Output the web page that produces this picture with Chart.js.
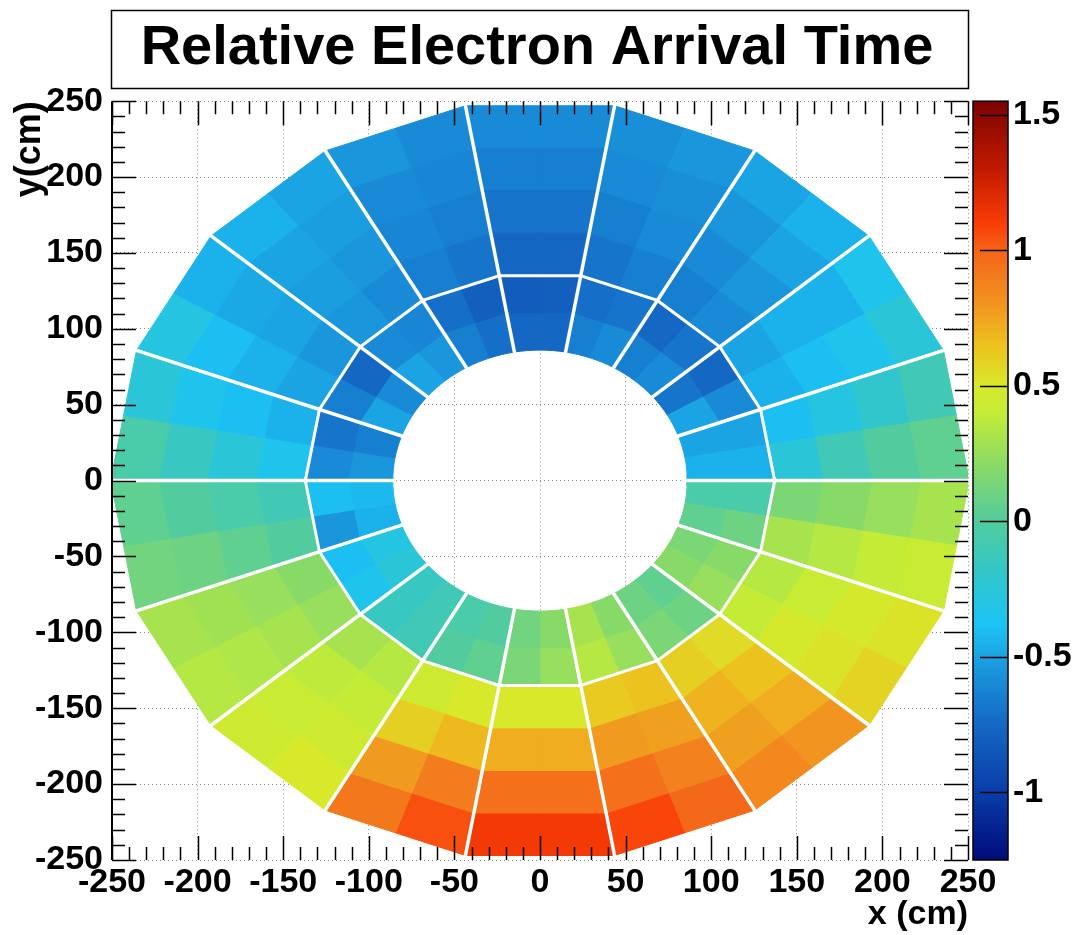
<!DOCTYPE html>
<html>
<head>
<meta charset="utf-8">
<title>Relative Electron Arrival Time</title>
<script src="https://cdn.jsdelivr.net/npm/chart.js@4.4.0/dist/chart.umd.min.js"></script>
<style>
  html, body { margin: 0; padding: 0; background: #fff; }
  canvas { display: block; }
</style>
</head>
<body>
<canvas id="arrival-chart" width="1074" height="935"></canvas>
<script>
// axis tick labels (cm) and colour scale
const xTickLabels = [-250, -200, -150, -100, -50, 0, 50, 100, 150, 200, 250];
const yTickLabels = [-250, -200, -150, -100, -50, 0, 50, 100, 150, 200, 250];
const zTickLabels = [-1, -0.5, 0, 0.5, 1, 1.5];
const zRange = [-1.25, 1.55];

// detector layout: 18 modules of 20 deg, each read as two 10 deg halves
const moduleEdges = [0, 20, 40, 60, 80, 100, 120, 140, 160, 180, 200, 220, 240, 260, 280, 300, 320, 340];
const cellStarts = [0, 10, 20, 30, 40, 50, 60, 70, 80, 90, 100, 110, 120, 130, 140, 150, 160, 170,
  180, 190, 200, 210, 220, 230, 240, 250, 260, 270, 280, 290, 300, 310, 320, 330, 340, 350];
// radial bin edges (cm): round hole of 86, inner ring to 135, outer ring to 247
const radialEdges = [86, 110, 135, 163, 191, 219, 247];

// relative arrival time per cell, counter-clockwise from +x, one list per radial bin
const timeR1 = [-0.45, -0.5, -0.5, -0.7, -0.6, -0.65, -0.6, -0.65, -0.75, -0.75, -0.72, -0.65, -0.55, -0.5, -0.6, -0.5, -0.65, -0.55,
  -0.42, -0.45, -0.3, -0.25, -0.15, -0.1, -0.05, 0.0, 0.12, 0.2, 0.3, 0.2, 0.1, 0.05, 0.2, 0.15, 0.05, -0.05];
const timeR2 = [-0.45, -0.5, -0.6, -0.75, -0.7, -0.75, -0.7, -0.72, -0.8, -0.82, -0.8, -0.72, -0.62, -0.6, -0.75, -0.65, -0.7, -0.6,
  -0.4, -0.55, -0.4, -0.35, -0.15, -0.1, 0.0, 0.05, 0.15, 0.25, 0.35, 0.25, 0.15, 0.1, 0.25, 0.2, 0.1, -0.05];
const timeR3 = [-0.25, -0.4, -0.45, -0.5, -0.6, -0.65, -0.65, -0.7, -0.75, -0.75, -0.7, -0.65, -0.6, -0.55, -0.55, -0.5, -0.45, -0.35,
  -0.1, 0.0, 0.2, 0.25, 0.3, 0.35, 0.45, 0.5, 0.5, 0.5, 0.62, 0.65, 0.6, 0.55, 0.4, 0.35, 0.3, 0.15];
const timeR4 = [-0.1, -0.3, -0.4, -0.45, -0.55, -0.6, -0.6, -0.65, -0.7, -0.7, -0.65, -0.62, -0.55, -0.52, -0.5, -0.45, -0.4, -0.25,
  -0.05, 0.05, 0.25, 0.3, 0.38, 0.4, 0.6, 0.68, 0.72, 0.72, 0.78, 0.76, 0.7, 0.65, 0.48, 0.42, 0.35, 0.2];
const timeR5 = [0.0, -0.2, -0.35, -0.45, -0.5, -0.55, -0.58, -0.6, -0.65, -0.65, -0.62, -0.6, -0.52, -0.5, -0.48, -0.4, -0.35, -0.15,
  0.0, 0.1, 0.28, 0.33, 0.42, 0.45, 0.78, 0.9, 0.95, 0.95, 0.95, 0.88, 0.76, 0.72, 0.52, 0.48, 0.4, 0.25];
const timeR6 = [0.05, -0.1, -0.25, -0.35, -0.45, -0.5, -0.55, -0.58, -0.6, -0.6, -0.6, -0.55, -0.5, -0.45, -0.45, -0.3, -0.25, -0.05,
  0.05, 0.12, 0.3, 0.35, 0.45, 0.5, 0.92, 1.05, 1.12, 1.12, 1.08, 0.98, 0.85, 0.8, 0.58, 0.52, 0.42, 0.3];

const palette = [
  [-1.25, "#000c7a"], [-1.0, "#0a3da8"], [-0.75, "#1468c4"], [-0.55, "#1a96dc"],
  [-0.38, "#1cc4f4"], [-0.2, "#30c6cc"], [0.0, "#52cc9e"], [0.2, "#88da68"],
  [0.4, "#c4ec36"], [0.5, "#d8e82a"], [0.65, "#ecc21e"], [0.8, "#f29420"],
  [1.0, "#f46418"], [1.1, "#fa3c06"], [1.3, "#c21a00"], [1.5, "#8a0800"], [1.55, "#7c0000"],
];

const FONT = "'Liberation Sans', Arial, Helvetica, sans-serif";

function hexToRgb(h) {
  return [1, 3, 5].map(i => parseInt(h.substr(i, 2), 16));
}

function colorFor(v) {
  if (v <= palette[0][0]) return palette[0][1];
  for (let i = 1; i < palette.length; i++) {
    if (v <= palette[i][0]) {
      const [v0, c0] = palette[i - 1];
      const [v1, c1] = palette[i];
      const t = (v - v0) / (v1 - v0);
      const a = hexToRgb(c0), b = hexToRgb(c1);
      const c = a.map((x, k) => Math.round(x + (b[k] - x) * t));
      return "rgb(" + c.join(",") + ")";
    }
  }
  return palette[palette.length - 1][1];
}

const moduleWidth = moduleEdges[1] - moduleEdges[0];
const cellWidth = cellStarts[1] - cellStarts[0];
const rad = Math.PI / 180;

// point on a straight module edge at given apothem, along direction angle
function cornerPoint(apothem, angle, centre) {
  const r = apothem / Math.cos((angle - centre) * rad);
  return { x: r * Math.cos(angle * rad), y: r * Math.sin(angle * rad) };
}

function arcPoint(r, angle) {
  return { x: r * Math.cos(angle * rad), y: r * Math.sin(angle * rad) };
}

const radialBins = [timeR1, timeR2, timeR3, timeR4, timeR5, timeR6];
const datasets = [];

radialBins.forEach((values, b) => {
  values.forEach((v, j) => {
    const a0 = cellStarts[j];
    const a1 = a0 + cellWidth;
    const centre = Math.floor(a0 / moduleWidth) * moduleWidth + moduleWidth / 2;
    const pts = [cornerPoint(radialEdges[b + 1], a0, centre), cornerPoint(radialEdges[b + 1], a1, centre)];
    if (b === 0) {
      // the central hole is round
      for (let a = a1; a >= a0; a -= 2.5) pts.push(arcPoint(radialEdges[0], a));
    } else {
      pts.push(cornerPoint(radialEdges[b], a1, centre), cornerPoint(radialEdges[b], a0, centre));
    }
    pts.push(pts[0]);
    const c = colorFor(v);
    datasets.push({
      data: pts,
      backgroundColor: c,
      borderColor: c,
      borderWidth: 1,
      fill: "shape",
      order: 2,
    });
  });
});

// white gaps between modules
const lastEdge = radialEdges[radialEdges.length - 1];
moduleEdges.forEach(a => {
  datasets.push({
    data: [arcPoint(radialEdges[0] - 2, a), cornerPoint(lastEdge + 2, a, a + moduleWidth / 2)],
    borderColor: "#ffffff",
    borderWidth: 3.5,
    fill: false,
    order: 0,
  });
});
const ringLine = moduleEdges.map(a => cornerPoint(radialEdges[2], a, a + moduleWidth / 2));
ringLine.push(ringLine[0]);
datasets.push({ data: ringLine, borderColor: "#ffffff", borderWidth: 3, fill: false, order: 0 });

// frame, inward ticks, title box and colour bar
const rootStyle = {
  id: "rootStyle",
  afterDatasetsDraw(chart) {
    const { ctx, chartArea: area } = chart;
    const x = chart.scales.x, y = chart.scales.y;
    const minorStep = 10;
    ctx.save();
    ctx.strokeStyle = "#000";
    ctx.lineWidth = 1.5;
    ctx.beginPath();
    for (let v = x.min; v <= x.max; v += minorStep) {
      const px = Math.round(x.getPixelForValue(v)) + 0.5;
      const len = xTickLabels.includes(v) ? 24 : 13;
      ctx.moveTo(px, area.bottom); ctx.lineTo(px, area.bottom - len);
      ctx.moveTo(px, area.top); ctx.lineTo(px, area.top + len);
    }
    for (let v = y.min; v <= y.max; v += minorStep) {
      const py = Math.round(y.getPixelForValue(v)) + 0.5;
      const len = yTickLabels.includes(v) ? 24 : 13;
      ctx.moveTo(area.left, py); ctx.lineTo(area.left + len, py);
      ctx.moveTo(area.right, py); ctx.lineTo(area.right - len, py);
    }
    ctx.stroke();
    ctx.lineWidth = 2;
    ctx.beginPath();
    ctx.moveTo(area.left, area.top);
    ctx.lineTo(area.left, area.bottom);
    ctx.stroke();
    ctx.restore();
  },
  afterDraw(chart) {
    const { ctx, chartArea: area } = chart;
    const z = chart.scales.z;
    ctx.save();
    // title box
    ctx.strokeStyle = "#000";
    ctx.lineWidth = 1.5;
    ctx.strokeRect(area.left - 0.5, 10.5, area.right - area.left + 1, 78);
    // colour bar
    const bx = z.left + 5, bw = 35;
    const yTop = z.getPixelForValue(zRange[1]);
    const yBot = z.getPixelForValue(zRange[0]);
    const grad = ctx.createLinearGradient(0, yBot, 0, yTop);
    palette.forEach(([v, c]) => grad.addColorStop((v - zRange[0]) / (zRange[1] - zRange[0]), c));
    ctx.fillStyle = grad;
    ctx.fillRect(bx, yTop, bw, yBot - yTop);
    ctx.strokeRect(bx, yTop, bw, yBot - yTop);
    ctx.beginPath();
    zTickLabels.forEach(v => {
      const py = Math.round(z.getPixelForValue(v)) + 0.5;
      ctx.moveTo(bx + bw, py);
      ctx.lineTo(bx + bw - 28, py);
    });
    ctx.stroke();
    ctx.restore();
  },
};

const labelFont = { family: FONT, size: 34, weight: "bold" };

new Chart(document.getElementById("arrival-chart"), {
  type: "line",
  data: { datasets: datasets },
  options: {
    responsive: false,
    animation: false,
    events: [],
    elements: { point: { radius: 0 }, line: { tension: 0 } },
    layout: { padding: 0 },
    scales: {
      x: {
        type: "linear",
        min: -250,
        max: 250,
        afterBuildTicks: s => { s.ticks = xTickLabels.map(v => ({ value: v })); },
        afterFit: s => { s.height = 75; },
        ticks: { font: labelFont, color: "#000", padding: 2, autoSkip: false, maxRotation: 0, callback: v => String(v) },
        grid: { color: "#8c8c8c", lineWidth: 1, drawTicks: false },
        border: { display: false, dash: [1, 3] },
        title: { display: true, text: "x (cm)", align: "end", color: "#000", font: labelFont, padding: { top: 0, bottom: 0 } },
      },
      y: {
        type: "linear",
        min: -250,
        max: 250,
        afterBuildTicks: s => { s.ticks = yTickLabels.map(v => ({ value: v })); },
        afterFit: s => { s.width = 112; },
        ticks: { font: labelFont, color: "#000", padding: 9, autoSkip: false, callback: v => String(v) },
        grid: { color: "#8c8c8c", lineWidth: 1, drawTicks: false },
        border: { display: false, dash: [1, 3] },
        title: { display: true, text: "y(cm)", align: "end", color: "#000", font: { family: FONT, size: 36, weight: "bold" }, padding: { top: 8, bottom: 0 } },
      },
      z: {
        type: "linear",
        position: "right",
        min: zRange[0],
        max: zRange[1],
        afterBuildTicks: s => { s.ticks = zTickLabels.map(v => ({ value: v })); },
        afterFit: s => { s.width = 106; },
        ticks: { font: labelFont, color: "#000", padding: 45, callback: v => String(v) },
        grid: { display: false, drawTicks: false },
        border: { display: false },
      },
    },
    plugins: {
      legend: { display: false },
      tooltip: { enabled: false },
      title: {
        display: true,
        text: "Relative Electron Arrival Time",
        color: "#000",
        font: { family: FONT, size: 56, weight: "bold", lineHeight: 1.2 },
        padding: { top: 15, bottom: 19 },
      },
    },
  },
  plugins: [rootStyle],
});
</script>
</body>
</html>
